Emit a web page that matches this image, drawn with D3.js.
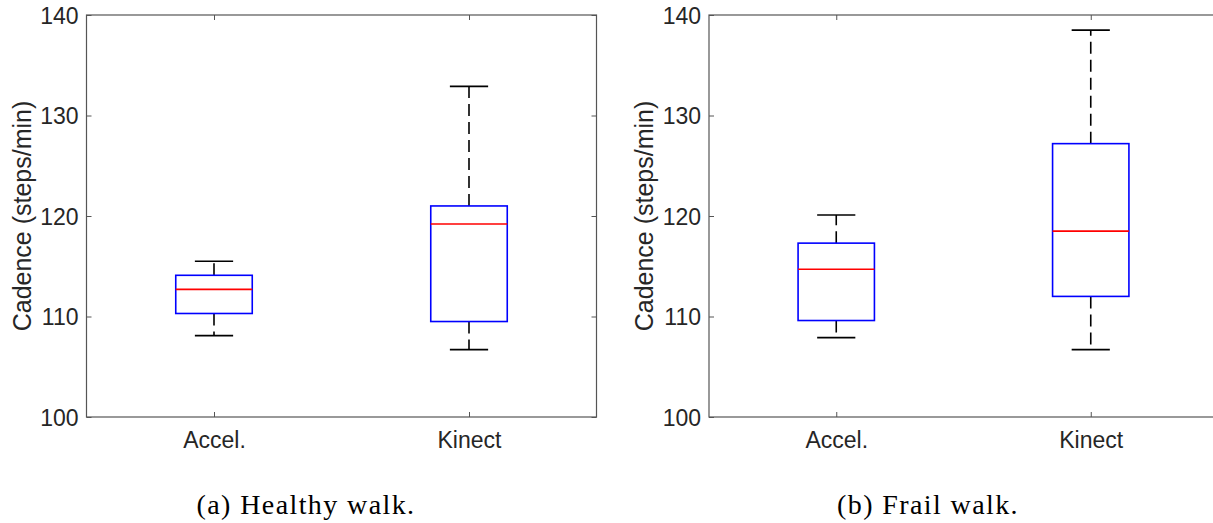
<!DOCTYPE html>
<html>
<head>
<meta charset="utf-8">
<script src="https://cdn.jsdelivr.net/npm/d3@7"></script>
<style>
  html, body { margin: 0; padding: 0; background: #fff; }
  svg { display: block; }
</style>
</head>
<body>
<svg id="chart" width="1213" height="523"></svg>
<script>
// ---- data ----
const categories = ["Accel.", "Kinect"];
const yTicks = [100, 110, 120, 130, 140];
const captions = ["(a) Healthy walk.", "(b) Frail walk."];
const yLabel = "Cadence (steps/min)";

const healthyLower  = [108.1, 106.7];
const healthyQ1     = [110.3, 109.5];
const healthyMedian = [112.7, 119.2];
const healthyQ3     = [114.1, 121.0];
const healthyUpper  = [115.5, 132.9];

const frailLower  = [107.9, 106.7];
const frailQ1     = [109.6, 112.0];
const frailMedian = [114.7, 118.5];
const frailQ3     = [117.3, 127.2];
const frailUpper  = [120.1, 138.5];

// ---- layout ----
const svg = d3.select("#chart");
const plotTop = 15, plotBottom = 417;
const y = d3.scaleLinear().domain([100, 140]).range([plotBottom, plotTop]);

const panels = [
  { range: [86.5, 596.5], capX: 306,
    lower: healthyLower, q1: healthyQ1, med: healthyMedian, q3: healthyQ3, upper: healthyUpper },
  { range: [709, 1218], capX: 928,
    lower: frailLower, q1: frailQ1, med: frailMedian, q3: frailQ3, upper: frailUpper }
];

const axisColor = "#555";
const textColor = "#262626";
const tickLen = 5;

panels.forEach((p, pi) => {
  const x = d3.scaleLinear().domain([0.5, categories.length + 0.5]).range(p.range);
  const step = x(2) - x(1);
  const boxW = step * 0.3;
  const capW = boxW / 2;
  const g = svg.append("g");

  // frame
  g.append("rect")
    .attr("x", p.range[0]).attr("y", plotTop)
    .attr("width", p.range[1] - p.range[0]).attr("height", plotBottom - plotTop)
    .attr("fill", "none").attr("stroke", axisColor).attr("stroke-width", 1.2);

  // axes
  const xs = categories.map((c, i) => i + 1);
  const ax = g.append("g").attr("transform", `translate(0,${plotBottom})`)
    .call(d3.axisBottom(x).tickValues(xs).tickFormat((d) => categories[d - 1])
      .tickSizeInner(-tickLen).tickSizeOuter(0).tickPadding(15));
  ax.select(".domain").remove();
  ax.selectAll("line").attr("stroke", axisColor).attr("stroke-width", 1);
  ax.selectAll("text").attr("font-family", "Liberation Sans, Arial, sans-serif")
    .attr("font-size", 23).attr("fill", textColor);

  const axTop = g.append("g").attr("transform", `translate(0,${plotTop})`)
    .call(d3.axisTop(x).tickValues(xs).tickFormat("").tickSizeInner(-tickLen).tickSizeOuter(0));
  axTop.select(".domain").remove();
  axTop.selectAll("line").attr("stroke", axisColor).attr("stroke-width", 1);

  const ay = g.append("g").attr("transform", `translate(${p.range[0]},0)`)
    .call(d3.axisLeft(y).tickValues(yTicks).tickFormat(d3.format("d"))
      .tickSizeInner(-tickLen).tickSizeOuter(0).tickPadding(8));
  ay.select(".domain").remove();
  ay.selectAll("line").attr("stroke", axisColor).attr("stroke-width", 1);
  ay.selectAll("text").attr("font-family", "Liberation Sans, Arial, sans-serif")
    .attr("font-size", 23).attr("fill", textColor).attr("dy", "0.36em");

  const ayR = g.append("g").attr("transform", `translate(${p.range[1]},0)`)
    .call(d3.axisRight(y).tickValues(yTicks).tickFormat("").tickSizeInner(-tickLen).tickSizeOuter(0));
  ayR.select(".domain").remove();
  ayR.selectAll("line").attr("stroke", axisColor).attr("stroke-width", 1);

  // y label
  g.append("text")
    .attr("transform", `translate(${p.range[0] - 56},${(plotTop + plotBottom) / 2}) rotate(-90)`)
    .attr("text-anchor", "middle")
    .attr("font-family", "Liberation Sans, Arial, sans-serif")
    .attr("font-size", 25).attr("fill", textColor)
    .text(yLabel);

  // boxes
  categories.forEach((c, i) => {
    const cx = x(i + 1);
    // whiskers
    g.append("line").attr("x1", cx).attr("x2", cx)
      .attr("y1", y(p.q3[i])).attr("y2", y(p.upper[i]))
      .attr("stroke", "#000").attr("stroke-width", 1.6).attr("stroke-dasharray", "12,6");
    g.append("line").attr("x1", cx).attr("x2", cx)
      .attr("y1", y(p.q1[i])).attr("y2", y(p.lower[i]))
      .attr("stroke", "#000").attr("stroke-width", 1.6).attr("stroke-dasharray", "12,6");
    // caps
    [p.upper[i], p.lower[i]].forEach((v) => {
      g.append("line").attr("x1", cx - capW / 2).attr("x2", cx + capW / 2)
        .attr("y1", y(v)).attr("y2", y(v))
        .attr("stroke", "#000").attr("stroke-width", 1.6);
    });
    // box
    g.append("rect")
      .attr("x", cx - boxW / 2).attr("y", y(p.q3[i]))
      .attr("width", boxW).attr("height", y(p.q1[i]) - y(p.q3[i]))
      .attr("fill", "none").attr("stroke", "#0000ff").attr("stroke-width", 1.6);
    // median
    g.append("line").attr("x1", cx - boxW / 2).attr("x2", cx + boxW / 2)
      .attr("y1", y(p.med[i])).attr("y2", y(p.med[i]))
      .attr("stroke", "#ff0000").attr("stroke-width", 1.6);
  });

  // caption
  svg.append("text")
    .attr("x", p.capX).attr("y", 514)
    .attr("text-anchor", "middle")
    .attr("font-family", "Liberation Serif, Times New Roman, serif")
    .attr("font-size", 28).attr("letter-spacing", 1.4).attr("fill", "#000")
    .text(captions[pi]);
});
</script>
</body>
</html>
